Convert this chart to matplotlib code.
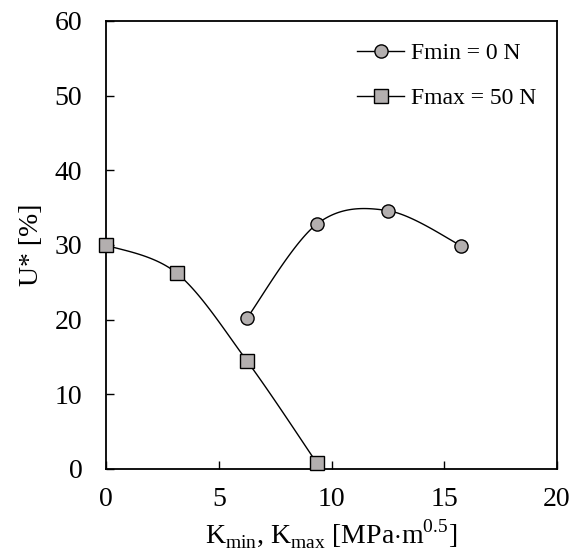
import numpy as np
import matplotlib.pyplot as plt

plt.rcParams['font.family'] = ['Liberation Serif', 'DejaVu Serif']
plt.rcParams['mathtext.fontset'] = 'custom'
plt.rcParams['mathtext.rm'] = 'Liberation Serif'

# stress intensity [MPa m^0.5] vs U* [%]
k_fmin = [6.25, 9.35, 12.5, 15.75]
u_fmin = [20.2, 32.8, 34.6, 29.9]

k_fmax = [0.0, 3.15, 6.27, 9.35]
u_fmax = [30.0, 26.2, 14.4, 0.8]


def smooth(x, y, n=40):
    # catmull-rom style curve through the points (like a spreadsheet "smoothed line")
    x = np.asarray(x, float)
    y = np.asarray(y, float)
    px = np.concatenate([[x[0]], x, [x[-1]]])
    py = np.concatenate([[y[0]], y, [y[-1]]])
    xs, ys = [], []
    t = np.linspace(0, 1, n)
    for i in range(1, len(px) - 2):
        p0 = np.array([px[i], py[i]])
        p3 = np.array([px[i + 1], py[i + 1]])
        p1 = p0 + (np.array([px[i + 1], py[i + 1]]) - np.array([px[i - 1], py[i - 1]])) / 6
        p2 = p3 - (np.array([px[i + 2], py[i + 2]]) - np.array([px[i], py[i]])) / 6
        b = ((1 - t) ** 3)[:, None] * p0 + (3 * (1 - t) ** 2 * t)[:, None] * p1 \
            + (3 * (1 - t) * t ** 2)[:, None] * p2 + (t ** 3)[:, None] * p3
        xs.extend(b[:, 0])
        ys.extend(b[:, 1])
    return xs, ys


fig = plt.figure(figsize=(5.71, 5.57), dpi=100)
ax = fig.add_axes([106 / 571, 88 / 557, 451 / 571, 448 / 557])

face = '#b3afaf'
sx, sy = smooth(k_fmin, u_fmin)
ax.plot(sx, sy, color='black', lw=1.0)
ax.plot(k_fmin, u_fmin, 'o', ms=9.5, mfc=face, mec='black', mew=1.0)
ax.plot([], [], '-o', color='black', lw=1.0, ms=9.5, mfc=face, mec='black', mew=1.0,
        label='Fmin = 0 N')

sx, sy = smooth(k_fmax, u_fmax)
ax.plot(sx, sy, color='black', lw=1.0)
ax.plot(k_fmax, u_fmax, 's', ms=10, mfc=face, mec='black', mew=1.0, clip_on=False, zorder=5)
ax.plot([], [], '-s', color='black', lw=1.0, ms=10, mfc=face, mec='black', mew=1.0,
        label='Fmax = 50 N')

ax.set_xlim(0, 20)
ax.set_ylim(0, 60)
ax.set_xticks([0, 5, 10, 15, 20])
ax.set_yticks([0, 10, 20, 30, 40, 50, 60])
ax.tick_params(direction='in', length=6, width=1.0, labelsize=20)
ax.tick_params(axis='x', pad=13)
ax.tick_params(axis='y', pad=17)
for s in ax.spines.values():
    s.set_linewidth(1.3)

ax.set_xlabel(r'K$_{\rm min}$, K$_{\rm max}$ [MPa$\cdot$m$^{0.5}$]', fontsize=20, labelpad=4)
ax.set_ylabel('U* [%]', fontsize=20, labelpad=8)

ax.legend(loc='upper right', frameon=False, fontsize=17, handlelength=2.0,
          handletextpad=0.3, labelspacing=1.0, borderaxespad=0, borderpad=0,
          bbox_to_anchor=(0.955, 0.952))

fig.savefig('out.png', dpi=100)
